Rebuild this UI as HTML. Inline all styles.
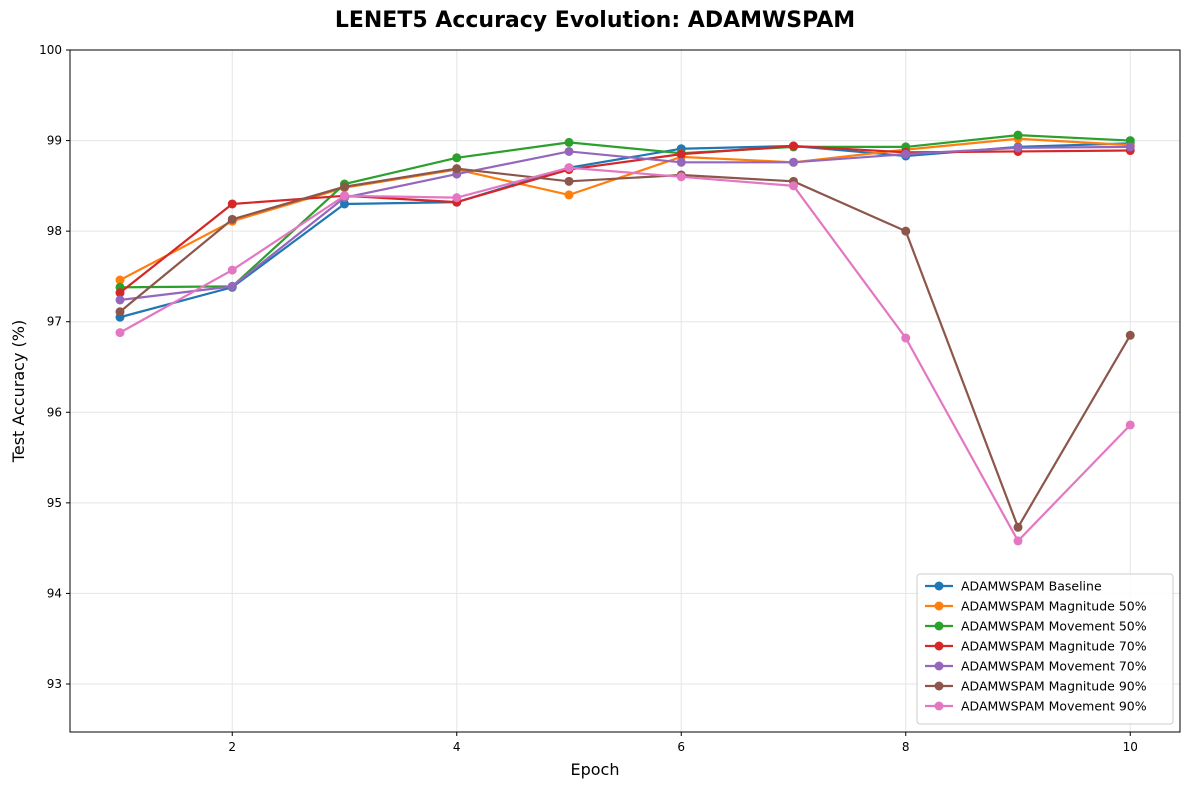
<!DOCTYPE html>
<html><head><meta charset="utf-8"><style>
body{margin:0;background:#fff;font-family:"Liberation Sans","DejaVu Sans",sans-serif}
svg text{font-family:"DejaVu Sans","Liberation Sans",sans-serif}
</style></head><body>
<svg id="chart" width="1189" height="789" xmlns="http://www.w3.org/2000/svg">
<rect width="1189" height="789" fill="#fff"/>
<text x="595" y="27" text-anchor="middle" font-size="22" font-weight="bold">LENET5 Accuracy Evolution: ADAMWSPAM</text>
<g id="grid"></g>
<g id="series"></g>
<rect x="70" y="50" width="1110" height="682" fill="none" stroke="#000" stroke-width="1"/>
<g id="ticks"></g>
<text x="595" y="775" text-anchor="middle" font-size="16">Epoch</text>
<text x="24" y="391" text-anchor="middle" font-size="16" transform="rotate(-90 24 391)">Test Accuracy (%)</text>
<g id="legend"></g>
</svg>
<script>
const epochs=[1,2,3,4,5,6,7,8,9,10];
const xTicks=[2,4,6,8,10];
const yTicks=[93,94,95,96,97,98,99,100];
const seriesNames=["ADAMWSPAM Baseline","ADAMWSPAM Magnitude 50%","ADAMWSPAM Movement 50%","ADAMWSPAM Magnitude 70%","ADAMWSPAM Movement 70%","ADAMWSPAM Magnitude 90%","ADAMWSPAM Movement 90%"];
const baseline=[97.05,97.38,98.30,98.32,98.70,98.91,98.94,98.83,98.93,98.97];
const mag50=[97.46,98.11,98.48,98.68,98.40,98.82,98.76,98.90,99.02,98.95];
const mov50=[97.38,97.39,98.52,98.81,98.98,98.86,98.93,98.93,99.06,99.00];
const mag70=[97.32,98.30,98.39,98.32,98.68,98.85,98.94,98.87,98.88,98.89];
const mov70=[97.24,97.39,98.37,98.63,98.88,98.76,98.76,98.85,98.92,98.93];
const mag90=[97.11,98.13,98.49,98.69,98.55,98.62,98.55,98.00,94.73,96.85];
const mov90=[96.88,97.57,98.39,98.37,98.70,98.60,98.50,96.82,94.58,95.86];
const allSeries=[baseline,mag50,mov50,mag70,mov70,mag90,mov90];
const colors=["#1f77b4","#ff7f0e","#2ca02c","#d62728","#9467bd","#8c564b","#e377c2"];
const NS="http://www.w3.org/2000/svg";
const xS=v=>120+(v-1)*112.25;
const yS=v=>50+(100-v)*90.57;
function mk(tag,attrs,parent){const e=document.createElementNS(NS,tag);for(const k in attrs)e.setAttribute(k,attrs[k]);parent.appendChild(e);return e;}
const grid=document.getElementById('grid'),ticks=document.getElementById('ticks'),ser=document.getElementById('series'),leg=document.getElementById('legend');
xTicks.forEach(t=>{const x=xS(t);
 const g=mk('line',{x1:x,x2:x,y1:50,y2:732,stroke:'#e5e5e5','stroke-width':1},grid);
 
 
 mk('line',{x1:x,x2:x,y1:732,y2:736,stroke:'#000'},ticks);
 const l=mk('text',{x:x,y:751,'text-anchor':'middle','font-size':12},ticks);l.textContent=t;
 
 });
yTicks.forEach(t=>{const y=yS(t);
 const g=mk('line',{x1:70,x2:1180,y1:y,y2:y,stroke:'#e5e5e5','stroke-width':1},grid);
 
 
 mk('line',{x1:66,x2:70,y1:y,y2:y,stroke:'#000'},ticks);
 const l=mk('text',{x:62,y:y+4,'text-anchor':'end','font-size':12},ticks);l.textContent=t;
 
 });
allSeries.forEach((s,i)=>{
 const g=mk('g',{},ser);
 
 
 mk('polyline',{points:s.map((v,j)=>xS(epochs[j])+','+yS(v)).join(' '),fill:'none',stroke:colors[i],'stroke-width':2.2},g);
 s.forEach((v,j)=>{const c=mk('circle',{cx:xS(epochs[j]),cy:yS(v),r:4.5,fill:colors[i]},g);
  
  });
});
const lb=mk('rect',{x:917,y:574,width:256,height:150,rx:3,fill:'#fff','fill-opacity':0.85,stroke:'#ccc'},leg);


seriesNames.forEach((n,i)=>{const y=586+i*20;
 const g=mk('g',{},leg);
 
 
 mk('line',{x1:925,x2:953,y1:y,y2:y,stroke:colors[i],'stroke-width':2.2},g);
 mk('circle',{cx:939,cy:y,r:4.5,fill:colors[i]},g);
 const t=mk('text',{x:961,y:y+4.5,'font-size':12.5},g);t.textContent=n;});
</script>
</body></html>
